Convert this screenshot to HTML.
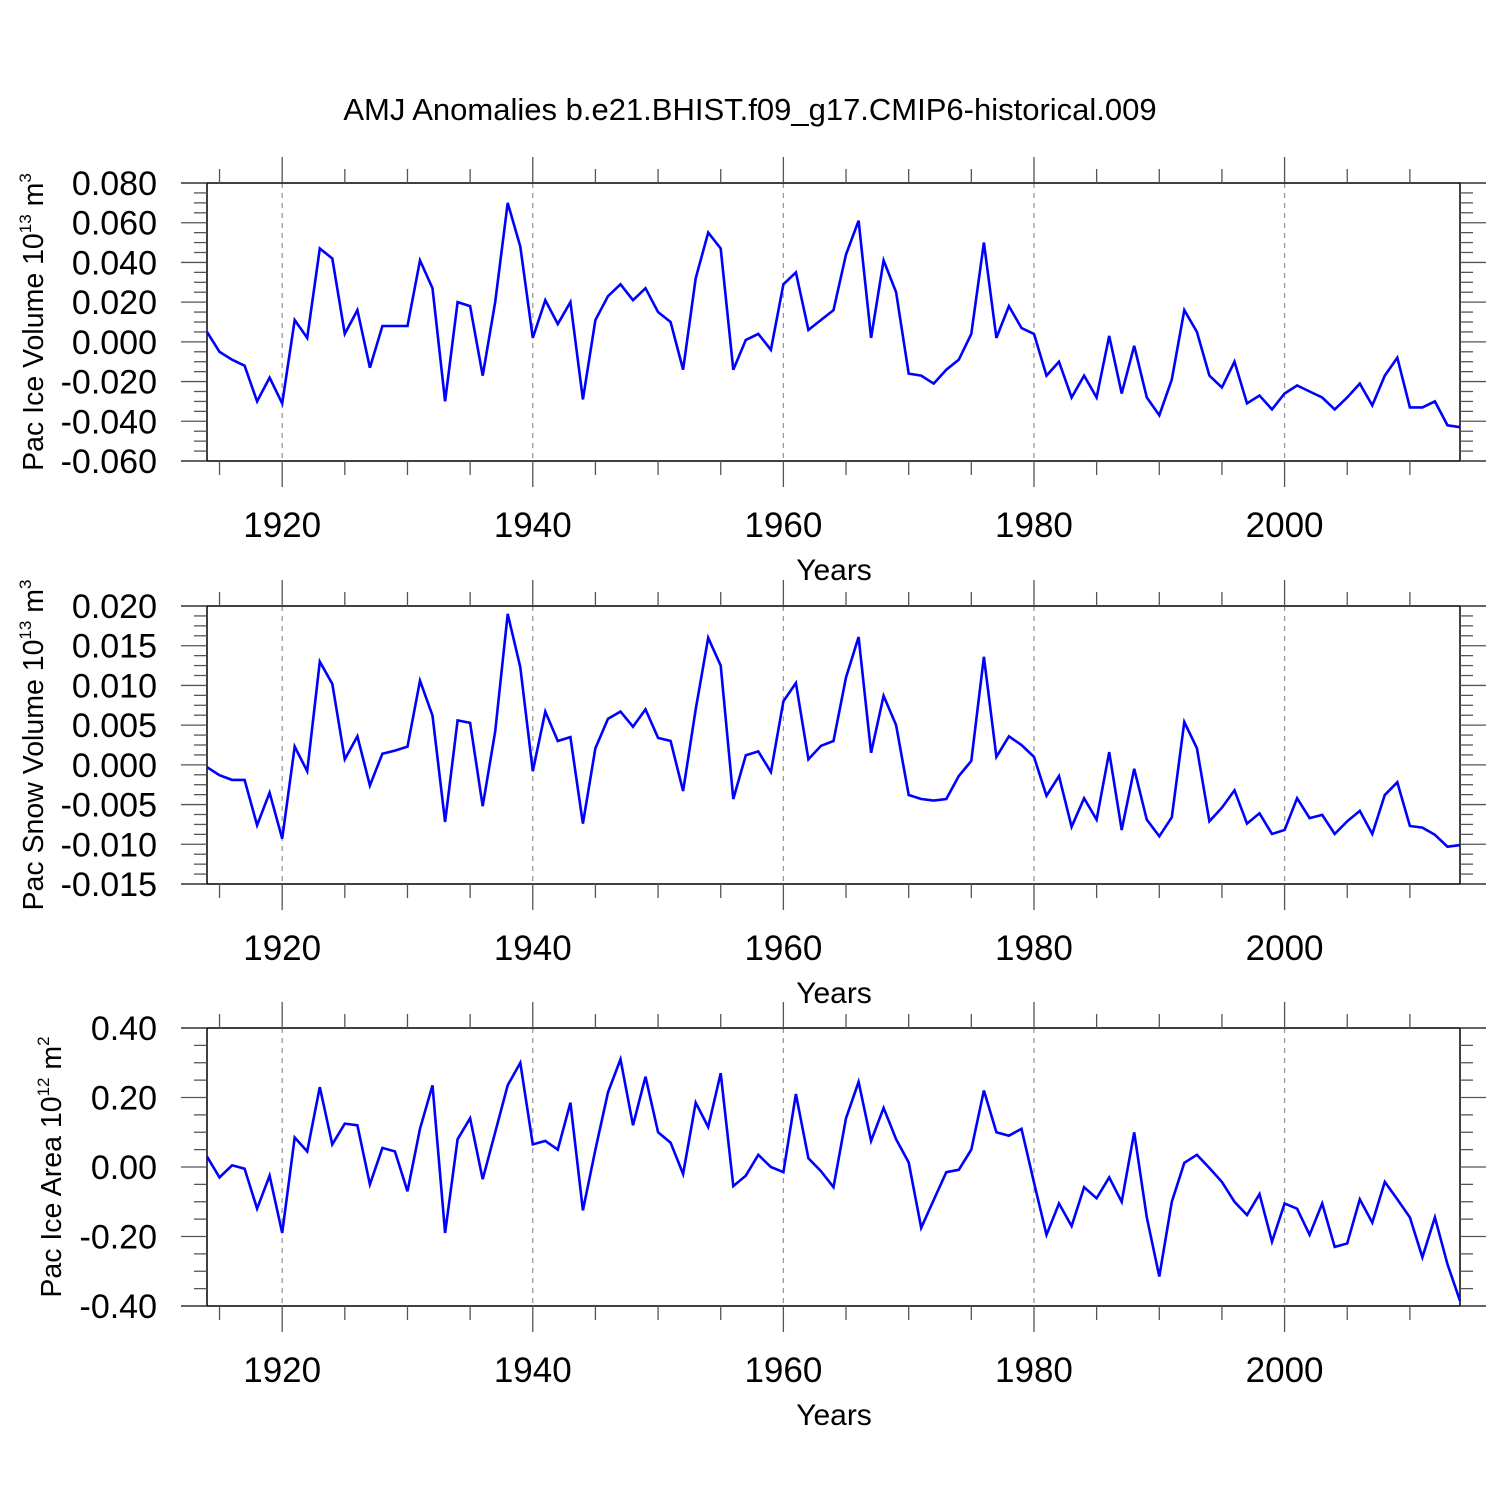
<!DOCTYPE html>
<html><head><meta charset="utf-8"><style>
body{margin:0;background:#fff}
svg text{font-family:"Liberation Sans",sans-serif;fill:#000}
</style></head><body>
<svg id="chart" width="1500" height="1500" viewBox="0 0 1500 1500" xmlns="http://www.w3.org/2000/svg">
<text x="750" y="120" font-size="31" text-anchor="middle">AMJ Anomalies b.e21.BHIST.f09_g17.CMIP6-historical.009</text>
</svg>
<script>
const years = [];
for (let y = 1914; y <= 2014; y++) years.push(y);
const xTickYears = [1920, 1940, 1960, 1980, 2000];
const iceVolume = [0.005,-0.005,-0.009,-0.012,-0.030,-0.018,-0.031,0.011,0.002,0.047,0.042,0.004,0.016,-0.013,0.008,0.008,0.008,0.041,0.027,-0.030,0.020,0.018,-0.017,0.020,0.070,0.048,0.002,0.021,0.009,0.020,-0.029,0.011,0.023,0.029,0.021,0.027,0.015,0.010,-0.014,0.032,0.055,0.047,-0.014,0.001,0.004,-0.004,0.029,0.035,0.006,0.011,0.016,0.044,0.061,0.002,0.041,0.025,-0.016,-0.017,-0.021,-0.014,-0.009,0.004,0.050,0.002,0.018,0.007,0.004,-0.017,-0.010,-0.028,-0.017,-0.028,0.003,-0.026,-0.002,-0.028,-0.037,-0.019,0.016,0.005,-0.017,-0.023,-0.010,-0.031,-0.027,-0.034,-0.026,-0.022,-0.025,-0.028,-0.034,-0.028,-0.021,-0.032,-0.017,-0.008,-0.033,-0.033,-0.030,-0.042,-0.043];
const snowVolume = [-0.0003,-0.0013,-0.0019,-0.0019,-0.0076,-0.0035,-0.0093,0.0023,-0.0008,0.0130,0.0102,0.0007,0.0036,-0.0026,0.0014,0.0018,0.0023,0.0106,0.0062,-0.0072,0.0056,0.0053,-0.0052,0.0042,0.0190,0.0123,-0.0008,0.0067,0.0030,0.0035,-0.0074,0.0021,0.0058,0.0067,0.0048,0.0070,0.0034,0.0030,-0.0033,0.0070,0.0160,0.0125,-0.0043,0.0012,0.0017,-0.0009,0.0080,0.0103,0.0007,0.0024,0.0030,0.0110,0.0161,0.0015,0.0087,0.0050,-0.0038,-0.0043,-0.0045,-0.0043,-0.0014,0.0005,0.0136,0.0010,0.0036,0.0025,0.0010,-0.0039,-0.0014,-0.0078,-0.0042,-0.0069,0.0016,-0.0082,-0.0005,-0.0069,-0.0090,-0.0066,0.0054,0.0021,-0.0071,-0.0054,-0.0032,-0.0074,-0.0061,-0.0087,-0.0082,-0.0042,-0.0067,-0.0063,-0.0087,-0.0071,-0.0058,-0.0087,-0.0038,-0.0022,-0.0077,-0.0079,-0.0088,-0.0103,-0.0101];
const iceArea = [0.03,-0.03,0.005,-0.005,-0.12,-0.025,-0.19,0.085,0.045,0.23,0.065,0.125,0.12,-0.05,0.055,0.045,-0.07,0.11,0.235,-0.19,0.08,0.14,-0.035,0.10,0.235,0.30,0.065,0.075,0.05,0.185,-0.125,0.05,0.215,0.31,0.12,0.26,0.10,0.07,-0.02,0.185,0.115,0.27,-0.055,-0.025,0.035,0.0,-0.015,0.21,0.025,-0.012,-0.058,0.14,0.245,0.075,0.17,0.08,0.013,-0.175,-0.095,-0.015,-0.008,0.05,0.22,0.10,0.09,0.11,-0.045,-0.195,-0.105,-0.17,-0.058,-0.09,-0.03,-0.10,0.10,-0.145,-0.315,-0.10,0.012,0.035,-0.003,-0.043,-0.10,-0.138,-0.078,-0.215,-0.105,-0.12,-0.195,-0.105,-0.23,-0.22,-0.093,-0.16,-0.043,-0.093,-0.145,-0.26,-0.145,-0.28,-0.385];
const iceVolTicks = ["0.080","0.060","0.040","0.020","0.000","-0.020","-0.040","-0.060"];
const snowTicks = ["0.020","0.015","0.010","0.005","0.000","-0.005","-0.010","-0.015"];
const areaTicks = ["0.40","0.20","0.00","-0.20","-0.40"];

const NS = "http://www.w3.org/2000/svg";
const svg = document.getElementById('chart');
function mk(tag, attrs, parent) {
  const e = document.createElementNS(NS, tag);
  for (const k in attrs) e.setAttribute(k, attrs[k]);
  (parent || svg).appendChild(e);
  return e;
}
const X0 = 207, X1 = 1460, FL = 181, FR = 1486;
const xScale = yr => X0 + (yr - 1914) * (X1 - X0) / 100;

function panel(cfg) {
  const g = mk('g', {});
  
  
  const top = cfg.top, bot = cfg.top + 278;
  const yScale = v => top + (cfg.max - v) / (cfg.max - cfg.min) * 278;
  xTickYears.forEach(yr => {
    const l = mk('line', {x1: xScale(yr), x2: xScale(yr), y1: top, y2: bot, stroke: '#999', 'stroke-width': 1.3, 'stroke-dasharray': '5,5'}, g);
    
    
  });
  mk('line', {x1: FL, x2: FR, y1: top, y2: top, stroke: '#000', 'stroke-width': 1.5}, g);
  mk('line', {x1: FL, x2: FR, y1: bot, y2: bot, stroke: '#000', 'stroke-width': 1.5}, g);
  mk('line', {x1: X0, x2: X0, y1: top, y2: bot, stroke: '#000', 'stroke-width': 1.5}, g);
  mk('line', {x1: X1, x2: X1, y1: top, y2: bot, stroke: '#000', 'stroke-width': 1.5}, g);
  for (let yr = 1915; yr <= 2010; yr += 5) {
    const major = yr % 20 === 0;
    const len = major ? 26 : 14;
    const x = xScale(yr);
    mk('line', {x1: x, x2: x, y1: top - len, y2: top, stroke: '#555', 'stroke-width': 1.3}, g);
    mk('line', {x1: x, x2: x, y1: bot, y2: bot + len, stroke: '#555', 'stroke-width': 1.3}, g);
  }
  xTickYears.forEach(yr => {
    const t = mk('text', {x: xScale(yr), y: bot + 76, 'font-size': 35, 'text-anchor': 'middle'}, g);
    t.textContent = yr;
    
    
  });
  const xt = mk('text', {x: 834, y: bot + 119, 'font-size': 30, 'text-anchor': 'middle'}, g);
  xt.textContent = 'Years';
  
  
  const n = cfg.ticks.length - 1;
  const step = (cfg.max - cfg.min) / n;
  for (let i = 0; i <= n * 4; i++) {
    const v = cfg.max - i * step / 4;
    const y = yScale(v);
    const len = i % 4 === 0 ? 26 : 13;
    mk('line', {x1: X0 - len, x2: X0, y1: y, y2: y, stroke: '#555', 'stroke-width': 1.3}, g);
    mk('line', {x1: X1, x2: X1 + len, y1: y, y2: y, stroke: '#555', 'stroke-width': 1.3}, g);
  }
  cfg.ticks.forEach((lab, i) => {
    const t = mk('text', {x: 157, y: yScale(cfg.max - i * step) + 12, 'font-size': 34, 'text-anchor': 'end'}, g);
    t.textContent = lab;
    
    
  });
  const yt = mk('text', {transform: `translate(${cfg.titleX},${top + 139}) rotate(-90)`, 'font-size': 28.5, 'text-anchor': 'middle'}, g);
  yt.innerHTML = cfg.title + ' 10<tspan dy="-12" font-size="17">' + cfg.exp + '</tspan><tspan dy="12"> m</tspan><tspan dy="-12" font-size="17">' + cfg.unit + '</tspan>';
  
  
  const pts = cfg.data.map((v, i) => xScale(years[i]).toFixed(1) + ',' + yScale(v).toFixed(1)).join(' ');
  const pl = mk('polyline', {points: pts, fill: 'none', stroke: '#0000ff', 'stroke-width': 2.6, 'stroke-linejoin': 'miter'}, g);
  
  
}
panel({name: 'ice-volume-panel', top: 183, max: 0.08, min: -0.06, ticks: iceVolTicks, data: iceVolume, title: 'Pac Ice Volume', exp: '13', unit: '3', titleX: 43});
panel({name: 'snow-volume-panel', top: 606, max: 0.02, min: -0.015, ticks: snowTicks, data: snowVolume, title: 'Pac Snow Volume', exp: '13', unit: '3', titleX: 43});
panel({name: 'ice-area-panel', top: 1028, max: 0.4, min: -0.4, ticks: areaTicks, data: iceArea, title: 'Pac Ice Area', exp: '12', unit: '2', titleX: 61});
</script>
</body></html>
